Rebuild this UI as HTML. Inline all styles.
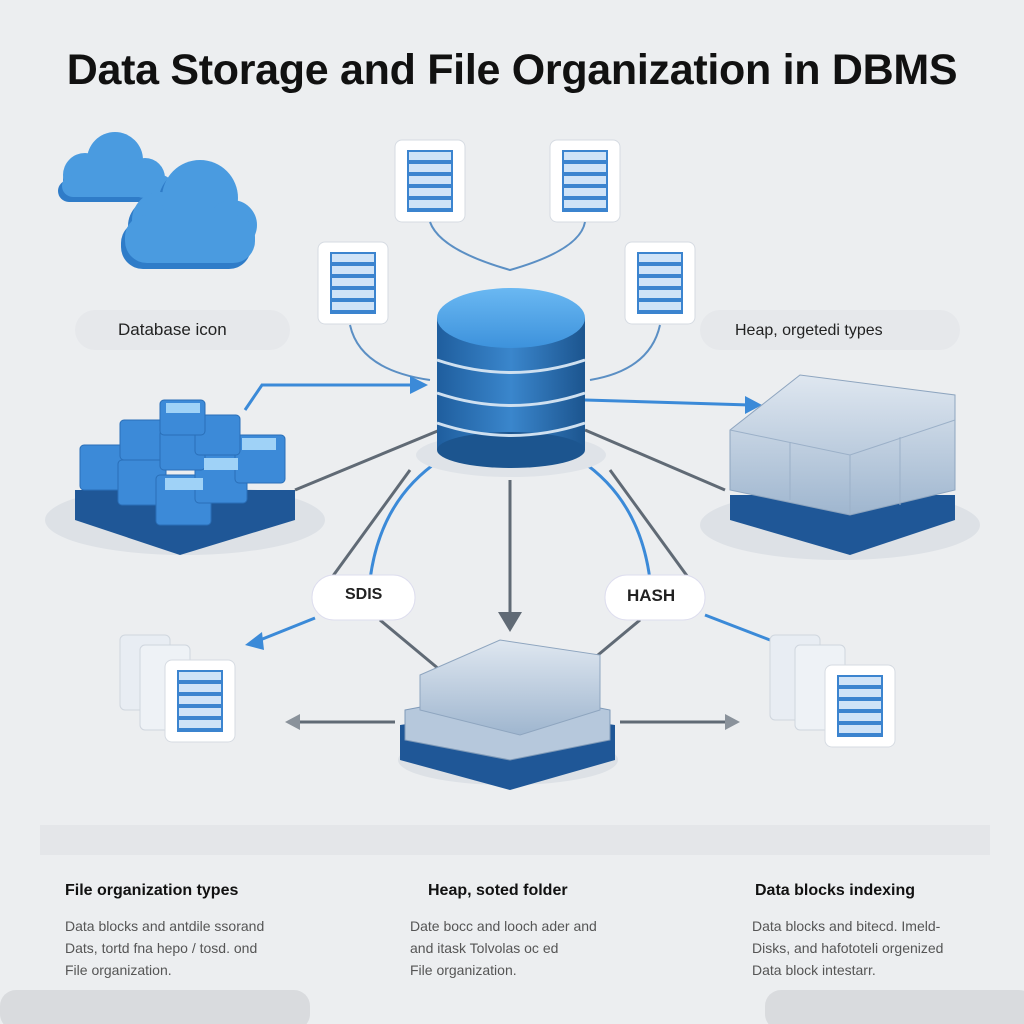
<!DOCTYPE html>
<html><head><meta charset="utf-8"><style>
body{margin:0;width:1024px;height:1024px;background:#eceef0;font-family:"Liberation Sans",sans-serif;overflow:hidden;position:relative}
.t{position:absolute;white-space:nowrap}
h1{position:absolute;left:0;width:1024px;top:46px;margin:0;text-align:center;font-size:43px;font-weight:bold;color:#111;letter-spacing:-0.3px}
.hd{font-size:16px;color:#111;top:882px;font-weight:bold}
.bd{font-size:14px;color:#555;line-height:22px;top:915px}
</style></head><body>
<svg width="1024" height="1024" style="position:absolute;left:0;top:0">
<defs>
<linearGradient id="cyl" x1="0" x2="1"><stop offset="0" stop-color="#1f5e9e"/><stop offset=".5" stop-color="#3a86cc"/><stop offset="1" stop-color="#1c558f"/></linearGradient>
<linearGradient id="top" x1="0" y1="0" x2="0" y2="1"><stop offset="0" stop-color="#6ab8f2"/><stop offset="1" stop-color="#3d92dc"/></linearGradient>
<linearGradient id="blk" x1="0" y1="0" x2="0" y2="1"><stop offset="0" stop-color="#dfe7f0"/><stop offset="1" stop-color="#9fb6cf"/></linearGradient>
<g id="doc"><rect x="0" y="0" width="70" height="82" rx="7" fill="#fff" stroke="#d6dbe2"/>
<rect x="12" y="10" width="46" height="62" fill="#3b84cf"/>
<g fill="#cfe3f7"><rect x="14" y="12" width="42" height="8"/><rect x="14" y="24" width="42" height="8"/><rect x="14" y="36" width="42" height="8"/><rect x="14" y="48" width="42" height="8"/><rect x="14" y="60" width="42" height="8"/></g></g>
</defs>
<rect x="0" y="990" width="310" height="40" rx="16" fill="#d9dbde"/>
<rect x="765" y="990" width="270" height="40" rx="16" fill="#d9dbde"/>
<rect x="40" y="825" width="950" height="30" fill="#e4e6e9"/>
<!-- clouds -->
<g fill="#2f7cc8"><circle cx="85" cy="180" r="22"/><circle cx="115" cy="165" r="28"/><circle cx="145" cy="183" r="20"/><rect x="58" y="180" width="110" height="22" rx="11"/></g>
<g fill="#4a9be0"><circle cx="85" cy="175" r="22"/><circle cx="115" cy="160" r="28"/><circle cx="145" cy="178" r="20"/><rect x="62" y="175" width="110" height="22" rx="11"/></g>
<g fill="#2f7cc8"><circle cx="156" cy="226" r="28"/><circle cx="196" cy="204" r="38"/><circle cx="228" cy="231" r="25"/><rect x="121" y="221" width="130" height="48" rx="22"/></g>
<g fill="#4a9be0"><circle cx="160" cy="220" r="28"/><circle cx="200" cy="198" r="38"/><circle cx="232" cy="225" r="25"/><rect x="125" y="215" width="130" height="48" rx="22"/></g>
<!-- docs top -->
<use href="#doc" x="395" y="140"/><use href="#doc" x="550" y="140"/><use href="#doc" x="318" y="242"/><use href="#doc" x="625" y="242"/>
<g fill="none" stroke="#5b8fc4" stroke-width="2"><path d="M430 222 Q440 250 510 270 Q580 250 585 222"/><path d="M350 325 Q360 370 430 380"/><path d="M660 325 Q650 370 590 380"/></g>
<!-- pills -->
<rect x="75" y="310" width="215" height="40" rx="20" fill="#e6e8eb"/>
<rect x="700" y="310" width="260" height="40" rx="20" fill="#e6e8eb"/>
<!-- lines -->
<g stroke="#606a75" stroke-width="3" fill="none"><path d="M440 430 L295 490"/><path d="M585 430 L725 490"/><path d="M410 470 L330 580"/><path d="M610 470 L690 580"/><path d="M380 620 L440 670"/><path d="M640 620 L580 670"/><path d="M510 480 L510 615"/><path d="M290 722 L395 722"/><path d="M620 722 L725 722"/></g>
<path d="M498 612 L522 612 L510 632Z" fill="#606a75"/>
<path d="M285 722 L300 714 L300 730Z" fill="#8a929b"/><path d="M740 722 L725 714 L725 730Z" fill="#8a929b"/>
<g stroke="#3b8ad8" stroke-width="3" fill="none"><path d="M245 410 L262 385 L415 385"/><path d="M585 400 L750 405"/><path d="M440 460 Q380 500 370 580"/><path d="M580 460 Q640 500 650 580"/><path d="M315 618 L255 642"/><path d="M705 615 L770 640"/></g>
<path d="M428 385 L410 376 L410 394Z" fill="#3b8ad8"/><path d="M762 405 L745 396 L745 414Z" fill="#3b8ad8"/>
<path d="M245 645 L262 632 L264 650Z" fill="#3b8ad8"/>
<!-- cylinder -->
<ellipse cx="511" cy="455" rx="95" ry="22" fill="#dfe3e8"/>
<rect x="437" y="318" width="148" height="132" fill="url(#cyl)"/>
<ellipse cx="511" cy="450" rx="74" ry="18" fill="#1c558f"/>
<g stroke="#cfe0f0" stroke-width="3" fill="none"><path d="M437 360 Q511 385 585 360"/><path d="M437 393 Q511 418 585 393"/><path d="M437 423 Q511 448 585 423"/></g>
<ellipse cx="511" cy="318" rx="74" ry="30" fill="url(#top)"/>
<!-- left cubes -->
<ellipse cx="185" cy="520" rx="140" ry="35" fill="#dde1e6"/>
<path d="M75 490 L295 490 L295 520 L180 555 L75 520Z" fill="#1f5797"/>
<g fill="#3c8ad8" stroke="#2a6fb8"><rect x="80" y="445" width="48" height="45" rx="4"/><rect x="118" y="460" width="48" height="45" rx="4"/><rect x="156" y="475" width="55" height="50" rx="4"/><rect x="195" y="455" width="52" height="48" rx="4"/><rect x="235" y="435" width="50" height="48" rx="4"/><rect x="120" y="420" width="45" height="40" rx="4"/><rect x="160" y="430" width="45" height="40" rx="4"/><rect x="195" y="415" width="45" height="40" rx="4"/><rect x="160" y="400" width="45" height="35" rx="4"/></g>
<g fill="#9fd2f7"><rect x="165" y="478" width="38" height="12"/><rect x="204" y="458" width="34" height="12"/><rect x="242" y="438" width="34" height="12"/><rect x="166" y="403" width="34" height="10"/></g>
<!-- right block -->
<ellipse cx="840" cy="525" rx="140" ry="35" fill="#dde1e6"/>
<path d="M730 495 L955 495 L955 520 L850 555 L730 520Z" fill="#1f5797"/>
<path d="M730 430 L800 375 L955 395 L955 490 L850 515 L730 490Z" fill="url(#blk)" stroke="#8ea5bf"/>
<g stroke="#9bb0c8" fill="none"><path d="M730 430 L850 455 L955 420"/><path d="M850 455 L850 515"/><path d="M790 442 L790 500"/><path d="M900 437 L900 505"/></g>
<!-- center pills -->
<rect x="312" y="575" width="103" height="45" rx="22" fill="#fff" stroke="#dde"/>
<rect x="605" y="575" width="100" height="45" rx="22" fill="#fff" stroke="#dde"/>
<!-- center stack -->
<ellipse cx="508" cy="760" rx="110" ry="25" fill="#dde1e6"/>
<path d="M400 725 L510 710 L615 725 L615 760 L510 790 L400 760Z" fill="#1f5797"/>
<path d="M405 710 L510 690 L610 710 L610 740 L510 760 L405 740Z" fill="#b6c8dc" stroke="#7f9ab8"/>
<path d="M420 675 L500 640 L600 655 L600 710 L520 735 L420 710Z" fill="url(#blk)" stroke="#8ea5bf"/>
<!-- bottom docs -->
<rect x="120" y="635" width="50" height="75" rx="5" fill="#e8edf3" stroke="#cfd6de"/>
<rect x="140" y="645" width="50" height="85" rx="5" fill="#eef2f6" stroke="#cfd6de"/>
<use href="#doc" x="165" y="660"/>
<rect x="770" y="635" width="50" height="85" rx="5" fill="#e8edf3" stroke="#cfd6de"/>
<rect x="795" y="645" width="50" height="85" rx="5" fill="#eef2f6" stroke="#cfd6de"/>
<use href="#doc" x="825" y="665"/>
</svg>
<h1>Data Storage and File Organization in DBMS</h1>
<div class="t" style="left:118px;top:320px;font-size:17px;color:#222">Database icon</div>
<div class="t" style="left:735px;top:322px;font-size:16px;color:#222">Heap, orgetedi types</div>
<div class="t" style="left:345px;top:586px;font-size:16px;font-weight:bold;color:#222">SDIS</div>
<div class="t" style="left:627px;top:586px;font-size:17px;font-weight:bold;color:#222">HASH</div>
<div class="t hd" style="left:65px">File organization types</div>
<div class="t hd" style="left:428px">Heap, soted folder</div>
<div class="t hd" style="left:755px">Data blocks indexing</div>
<div class="t bd" style="left:65px">Data blocks and antdile ssorand<br>Dats, tortd fna hepo / tosd. ond<br>File organization.</div>
<div class="t bd" style="left:410px">Date bocc and looch ader and<br>and itask Tolvolas oc ed<br>File organization.</div>
<div class="t bd" style="left:752px">Data blocks and bitecd. Imeld-<br>Disks, and hafototeli orgenized<br>Data block intestarr.</div>
</body></html>
